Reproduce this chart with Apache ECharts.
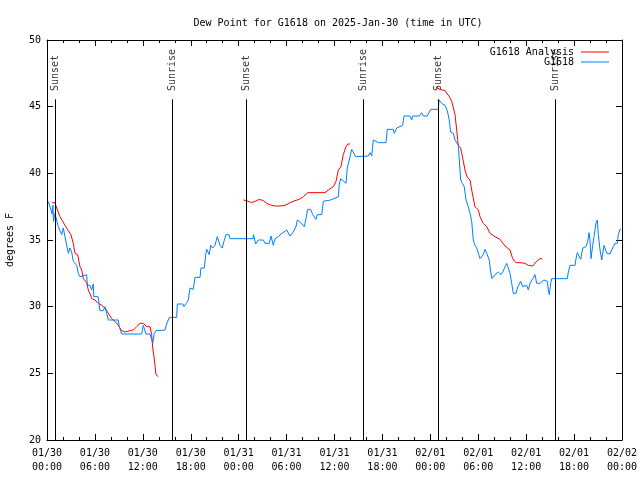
<!DOCTYPE html>
<html><head><meta charset="utf-8">
<script src="https://cdn.jsdelivr.net/npm/echarts@6/dist/echarts.min.js"></script>
<style>html,body{margin:0;padding:0;background:#fff}#c{width:640px;height:480px}</style>
</head><body><div id="c"></div>
<script>
// hours since 2025-01-30 00:00 UTC
var xTickLabels = ['01/30\n00:00','01/30\n06:00','01/30\n12:00','01/30\n18:00','01/31\n00:00','01/31\n06:00','01/31\n12:00','01/31\n18:00','02/01\n00:00','02/01\n06:00','02/01\n12:00','02/01\n18:00','02/02\n00:00'];
var yTicks = [20,25,30,35,40,45,50];
var sunTimes = [1.0, 15.65, 24.92, 39.57, 48.96, 63.61];
var sunLabels = ['Sunset','Sunrise','Sunset','Sunrise','Sunset','Sunrise'];

var obs = [[0.16,37.9],[0.5,37.25],[0.63,36.95],[0.75,37.6],[0.81,36.4],[1.0,37.0],[1.21,36.9],[1.41,36.0],[1.63,36.1],[1.84,35.4],[2.04,35.9],[2.25,35.25],[2.67,34.0],[2.88,34.4],[3.09,34.1],[3.29,33.4],[3.51,33.5],[3.72,33.1],[3.92,32.5],[4.13,32.25],[4.35,32.4],[4.97,32.4],[5.05,31.6],[5.38,31.6],[5.59,31.25],[5.8,31.7],[5.85,30.75],[6.4,30.75],[6.63,29.7],[7.05,29.7],[7.26,30.0],[7.68,29.0],[8.9,29.0],[9.05,28.5],[9.35,27.95],[11.85,27.95],[12.06,28.6],[12.4,27.95],[12.9,27.95],[13.24,27.25],[13.44,28.0],[13.65,28.2],[14.77,28.25],[14.98,28.7],[15.32,29.2],[16.24,29.2],[16.32,30.2],[17.0,30.2],[17.15,30.0],[17.49,30.3],[17.69,30.5],[17.91,31.4],[18.12,31.5],[18.32,31.3],[18.53,32.2],[19.16,32.2],[19.28,32.9],[19.7,32.9],[19.87,33.9],[20.0,34.3],[20.32,33.9],[20.5,34.6],[20.75,34.4],[21.04,34.6],[21.32,35.25],[21.66,34.6],[21.95,34.4],[22.16,34.9],[22.41,35.4],[22.79,35.4],[22.92,35.1],[25.83,35.1],[25.85,35.4],[26.13,34.7],[26.46,35.0],[27.09,35.0],[27.3,34.75],[27.84,34.75],[28.05,35.3],[28.34,34.6],[28.55,35.1],[28.96,35.25],[29.39,35.5],[29.68,35.6],[30.02,35.75],[30.43,35.3],[30.84,35.6],[31.18,36.0],[31.34,36.5],[31.77,36.3],[32.22,36.0],[32.43,36.6],[32.64,37.3],[33.02,37.3],[33.27,36.9],[33.68,36.55],[33.85,36.9],[34.4,36.9],[34.6,37.9],[35.52,38.0],[36.48,38.25],[36.6,39.2],[36.78,39.6],[37.44,39.25],[37.6,40.4],[37.94,41.25],[38.15,41.8],[38.35,41.6],[38.65,41.25],[40.23,41.3],[40.45,41.55],[40.66,41.3],[40.86,42.5],[41.49,42.3],[42.45,42.3],[42.61,43.3],[43.36,43.3],[43.49,43.0],[43.79,43.4],[44.54,43.6],[44.7,44.3],[45.45,44.3],[45.67,44.0],[45.79,44.3],[46.62,44.3],[46.92,44.55],[47.12,44.3],[47.62,44.3],[48.05,44.8],[49.0,44.8],[49.09,45.5],[49.42,45.25],[49.84,45.1],[49.96,45.1],[50.12,44.7],[50.37,44.0],[50.55,43.1],[50.88,43.0],[51.09,42.5],[51.5,42.1],[51.63,41.0],[51.8,39.5],[52.0,39.25],[52.25,39.0],[52.47,38.0],[52.75,37.5],[52.97,37.0],[53.18,36.4],[53.38,35.0],[53.59,34.6],[53.81,34.4],[54.01,34.0],[54.22,33.6],[54.43,33.5],[54.63,33.9],[54.84,34.3],[55.06,34.0],[55.38,33.5],[55.56,32.6],[55.72,32.1],[56.1,32.4],[56.51,32.6],[56.72,32.75],[56.85,32.4],[57.06,32.6],[57.56,33.25],[57.76,32.9],[57.98,32.5],[58.19,31.75],[58.39,31.0],[58.73,31.0],[58.89,31.4],[59.14,31.25],[59.32,31.9],[59.57,31.5],[60.07,31.6],[60.27,31.25],[60.48,31.75],[60.82,32.1],[61.11,32.4],[61.32,31.75],[61.73,31.75],[62.23,32.0],[62.45,32.1],[62.65,31.9],[62.77,31.25],[62.9,30.9],[63.07,31.75],[63.2,32.1],[65.15,32.1],[65.28,32.6],[65.49,33.1],[66.12,33.1],[66.24,33.6],[66.4,34.05],[66.65,33.9],[66.83,33.55],[67.08,34.4],[67.28,34.5],[67.49,34.5],[67.71,34.9],[67.87,35.55],[67.99,35.0],[68.12,33.6],[68.33,34.6],[68.49,35.25],[68.62,35.75],[68.74,36.25],[68.91,36.5],[69.03,35.4],[69.25,34.25],[69.46,33.5],[69.75,34.6],[69.87,34.75],[70.09,34.0],[70.29,34.1],[70.5,33.95],[70.71,34.1],[70.91,34.5],[71.12,34.75],[71.41,34.75],[71.54,35.4],[71.75,35.8],[71.87,35.8]];

var anal1 = [[0.63,37.8],[1.0,37.8],[1.21,37.4],[1.63,36.75],[1.84,36.6],[2.25,36.1],[2.67,35.7],[3.0,35.4],[3.29,34.75],[3.51,34.0],[3.84,33.9],[4.13,33.0],[4.35,32.75],[4.55,32.1],[4.97,31.8],[5.17,31.25],[5.38,31.0],[5.6,30.6],[6.01,30.5],[6.42,30.25],[6.85,30.1],[7.26,29.9],[7.68,29.5],[8.1,29.1],[8.51,28.9],[8.93,28.6],[9.35,28.2],[9.77,28.1],[10.39,28.2],[10.81,28.25],[11.23,28.5],[11.65,28.75],[12.06,28.75],[12.48,28.5],[12.9,28.5],[13.11,27.9],[13.24,26.9],[13.4,26.25],[13.52,25.6],[13.65,24.9],[13.94,24.75]];
var anal2 = [[24.58,38.0],[25.01,37.95],[25.63,37.8],[26.05,37.9],[26.58,38.05],[27.09,37.95],[27.51,37.75],[28.14,37.6],[28.55,37.55],[29.18,37.55],[29.8,37.6],[30.43,37.8],[31.05,37.95],[31.59,38.05],[32.1,38.25],[32.64,38.55],[34.81,38.55],[35.22,38.75],[35.85,39.0],[36.19,39.4],[36.48,40.25],[36.81,40.5],[37.1,41.4],[37.44,42.0],[37.65,42.2],[37.94,42.2]];
var anal3 = [[48.71,46.45],[49.21,46.3],[49.84,46.2],[50.37,45.75],[50.68,45.4],[51.09,44.4],[51.3,43.25],[51.5,42.1],[51.8,41.9],[52.13,40.9],[52.34,40.25],[52.63,39.7],[52.97,39.5],[53.18,38.75],[53.34,38.25],[53.59,37.5],[54.01,37.25],[54.22,36.75],[54.63,36.25],[55.06,36.0],[55.47,35.5],[56.1,35.25],[56.72,35.05],[57.35,34.55],[57.98,34.25],[58.31,33.6],[58.73,33.3],[59.23,33.3],[59.85,33.25],[60.27,33.1],[60.82,33.05],[61.32,33.4],[61.73,33.6],[62.02,33.6]];

var FONT = 'DejaVu Sans Mono';
var RED = '#ff0000', BLUE = '#0080ff';
var sunLineTop = 45.55, sunLabelY = 46.1;

var chart = echarts.init(document.getElementById('c'), null, {renderer:'canvas'});
var axisCommon = {
  min: 0, max: 72, interval: 6, type: 'value',
  axisLine: {show: true, onZero: false, lineStyle: {color: '#000', width: 1}},
  axisTick: {show: true, inside: true, length: 6, lineStyle: {color: '#000'}},
  minorTick: {show: true, splitNumber: 3, length: 3, lineStyle: {color: '#000'}},
  splitLine: {show: false}
};
var yCommon = {
  type: 'value', min: 20, max: 50, interval: 5,
  axisLine: {show: true, onZero: false, lineStyle: {color: '#000', width: 1}},
  axisTick: {show: true, inside: true, length: 6, lineStyle: {color: '#000'}},
  splitLine: {show: false}
};

var sunLineData = sunTimes.map(function(h){ return [{coord:[h,20]},{coord:[h,sunLineTop]}]; });
var sunLabelData = sunTimes.map(function(h,i){ return {value:[h,sunLabelY], name: sunLabels[i]}; });

var option = {
  animation: false,
  backgroundColor: '#fff',
  textStyle: {fontFamily: FONT},
  title: {
    text: 'Dew Point for G1618 on 2025-Jan-30 (time in UTC)',
    left: 333, top: 13, textAlign: 'center',
    textStyle: {fontFamily: FONT, fontSize: 10, fontWeight: 'normal', color: '#000'}
  },
  legend: {
    orient: 'vertical', right: 26, top: 42, align: 'right',
    itemWidth: 28, itemHeight: 1, itemGap: 0, icon: 'rect',
    textStyle: {fontFamily: FONT, fontSize: 10, color: '#000', padding: [0,2,0,0]},
    data: ['G1618 Analysis', 'G1618']
  },
  grid: {left: 47, right: 18, top: 40, bottom: 40, containLabel: false, outerBoundsMode: 'none'},
  xAxis: [
    Object.assign({}, axisCommon, {
      position: 'bottom',
      axisLabel: {show: true, margin: 6, color: '#000', fontFamily: FONT, fontSize: 10, lineHeight: 14,
        formatter: function(v){ return xTickLabels[Math.round(v/6)]; }}
    }),
    Object.assign({}, axisCommon, {position: 'top', axisLabel: {show: false}})
  ],
  yAxis: [
    Object.assign({}, yCommon, {
      position: 'left', name: 'degrees F', nameLocation: 'middle', nameGap: 32,
      nameTextStyle: {fontFamily: FONT, fontSize: 10, color: '#000'},
      axisLabel: {show: true, margin: 6, color: '#000', fontFamily: FONT, fontSize: 10,
        formatter: function(v){ return yTicks.indexOf(v) >= 0 ? String(v) : ''; }}
    }),
    Object.assign({}, yCommon, {position: 'right', axisLabel: {show: false}})
  ],
  series: [
    {
      name: 'sun', type: 'scatter', xAxisIndex: 0, yAxisIndex: 0, symbolSize: 0,
      data: sunLabelData, silent: true,
      label: {show: true, formatter: function(p){ return p.name; }, rotate: 90, position: 'inside',
        align: 'left', verticalAlign: 'middle', offset: [1, 0],
        fontFamily: FONT, fontSize: 10, color: '#000'},
      markLine: {symbol: 'none', silent: true, animation: false,
        lineStyle: {color: '#000', width: 1, type: 'solid'}, label: {show: false},
        data: sunLineData}
    },
    {name: 'G1618 Analysis', type: 'line', data: anal1, showSymbol: false, symbol: 'none',
      lineStyle: {color: RED, width: 1}, itemStyle: {color: RED}},
    {name: 'G1618 Analysis', type: 'line', data: anal2, showSymbol: false, symbol: 'none',
      lineStyle: {color: RED, width: 1}, itemStyle: {color: RED}},
    {name: 'G1618 Analysis', type: 'line', data: anal3, showSymbol: false, symbol: 'none',
      lineStyle: {color: RED, width: 1}, itemStyle: {color: RED}},
    {name: 'G1618', type: 'line', data: obs, showSymbol: false, symbol: 'none',
      lineStyle: {color: BLUE, width: 1}, itemStyle: {color: BLUE}}
  ]
};
chart.setOption(option);
</script>
</body></html>
